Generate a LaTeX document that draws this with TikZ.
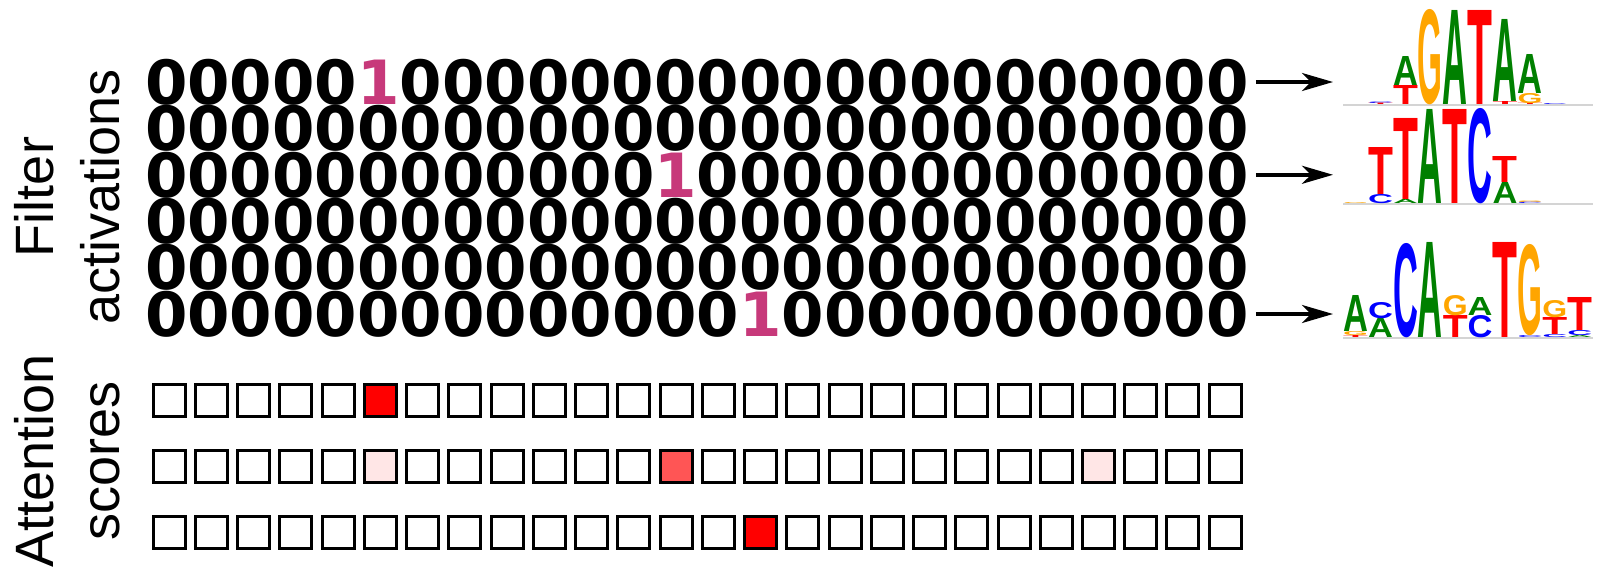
\documentclass[tikz,border=0pt]{standalone}
\usepackage{fontspec}
\usepackage{graphicx}
\usepackage{xcolor}
\usepackage{tikz}
\usetikzlibrary{arrows.meta,positioning}
\newfontfamily\digitfont{DejaVu Sans}
\newfontfamily\labfont{Liberation Sans}
\newfontfamily\logofont{Liberation Sans}
\definecolor{onec}{HTML}{C7397A}
\definecolor{hot}{HTML}{FF0000}
\definecolor{warm}{HTML}{FF5555}
\definecolor{faint}{HTML}{FFE6E6}
\definecolor{nucA}{HTML}{008000}
\definecolor{nucC}{HTML}{0000FF}
\definecolor{nucG}{HTML}{FFA500}
\definecolor{nucT}{HTML}{FF0000}
\definecolor{rulec}{HTML}{D4D4D4}
\tikzset{
  digits/.style={anchor=west,inner sep=0pt,
    font=\digitfont\bfseries\fontsize{61}{61}\selectfont},
  sidelab/.style={rotate=90,align=center,inner sep=0pt,
    font=\labfont\fontsize{54}{66}\selectfont},
  cell/.style={draw=black,line width=3pt,minimum size=32pt,inner sep=0pt},
  % --- which attention cells carry weight ---
  c1-5/.style={fill=hot},
  c2-5/.style={fill=faint},
  c2-12/.style={fill=warm},
  c2-22/.style={fill=faint},
  c3-14/.style={fill=hot},
  pointer/.style={-{Stealth[length=31pt,width=18pt,inset=9pt]},line width=3.5pt},
  glyph/.style={anchor=south west,inner sep=0pt},
  logorule/.style={draw=rulec,line width=1.2pt},
}
% one logo column: logo, baseline, column, letters bottom-up
\newcommand\logocol[4]{%
  \foreach \nuc/\hgt [count=\k, remember=\ytop as \ybot (initially #2)] in {#4}{
    \pgfmathsetmacro\ytop{\ybot-\hgt}
    \node[glyph] (L#1c#3-\k) at ({1343+24.9*#3},\ybot)
      {\resizebox{24.9pt}{\hgt pt}{\color{nuc\nuc}\logofont\bfseries\nuc}};
  }}

\begin{document}
\begin{tikzpicture}[x=1pt,y=-1pt]
  \useasboundingbox (0,0) rectangle (1598,573);
  % side labels
  \node[sidelab] (fa) at (67,197) {Filter\\activations};
  \node[sidelab] (as) at (67,461) {Attention\\scores};
  % filter activations
  \node[digits] (row1) at (144.8,82.0) {00000{\color{onec}1}00000000000000000000};
  \node[digits] (row2) at (144.8,128.4) {00000000000000000000000000};
  \node[digits] (row3) at (144.8,174.8) {000000000000{\color{onec}1}0000000000000};
  \node[digits] (row4) at (144.8,221.2) {00000000000000000000000000};
  \node[digits] (row5) at (144.8,267.6) {00000000000000000000000000};
  \node[digits] (row6) at (144.8,314.0) {00000000000000{\color{onec}1}00000000000};
  % attention cells
  \foreach \r/\y in {1/400.5,2/466.5,3/532.5}
    \foreach \i in {0,...,25}
      \node[cell,c\r-\i/.try] (sq\r-\i) at ({169.2+42.24*\i},\y) {};
  % arrows to motifs
  \coordinate (tip1) at (1333,82.0);
  \coordinate (tip2) at (1333,174.8);
  \coordinate (tip3) at (1333,314.0);
  \foreach \a/\b in {row1/tip1,row3/tip2,row6/tip3}
    \draw[pointer] ([xshift=7pt]\a.east) -- (\b);
  % motif logos
  \draw[logorule] (1343,105) -- (1593,105);
  \draw[logorule] (1343,204) -- (1593,204);
  \draw[logorule] (1343,338) -- (1593,338);
  \logocol{1}{105}{1}{T/1.5,C/1.5}
  \logocol{1}{105}{2}{T/19,A/29}
  \logocol{1}{105}{3}{G/94}
  \logocol{1}{105}{4}{A/94}
  \logocol{1}{105}{5}{T/94}
  \logocol{1}{105}{6}{T/3,A/82}
  \logocol{1}{105}{7}{T/1.5,G/10,A/39}
  \logocol{1}{105}{8}{C/1}
  \logocol{2}{204}{0}{G/1}
  \logocol{2}{204}{1}{C/9,T/47}
  \logocol{2}{204}{2}{A/4,T/81}
  \logocol{2}{204}{3}{A/94}
  \logocol{2}{204}{4}{T/94}
  \logocol{2}{204}{5}{C/94}
  \logocol{2}{204}{6}{A/21,T/26}
  \logocol{2}{204}{7}{C/1.5,G/1.5}
  \logocol{3}{338}{0}{T/2,G/4,A/36}
  \logocol{3}{338}{1}{A/19,C/16}
  \logocol{3}{338}{2}{C/93}
  \logocol{3}{338}{3}{A/95}
  \logocol{3}{338}{4}{T/22,G/20}
  \logocol{3}{338}{5}{C/22,A/18}
  \logocol{3}{338}{6}{T/95}
  \logocol{3}{338}{7}{C/2,G/90}
  \logocol{3}{338}{8}{C/3,T/17,G/17}
  \logocol{3}{338}{9}{A/2,C/5,T/33}
\end{tikzpicture}
\end{document}
